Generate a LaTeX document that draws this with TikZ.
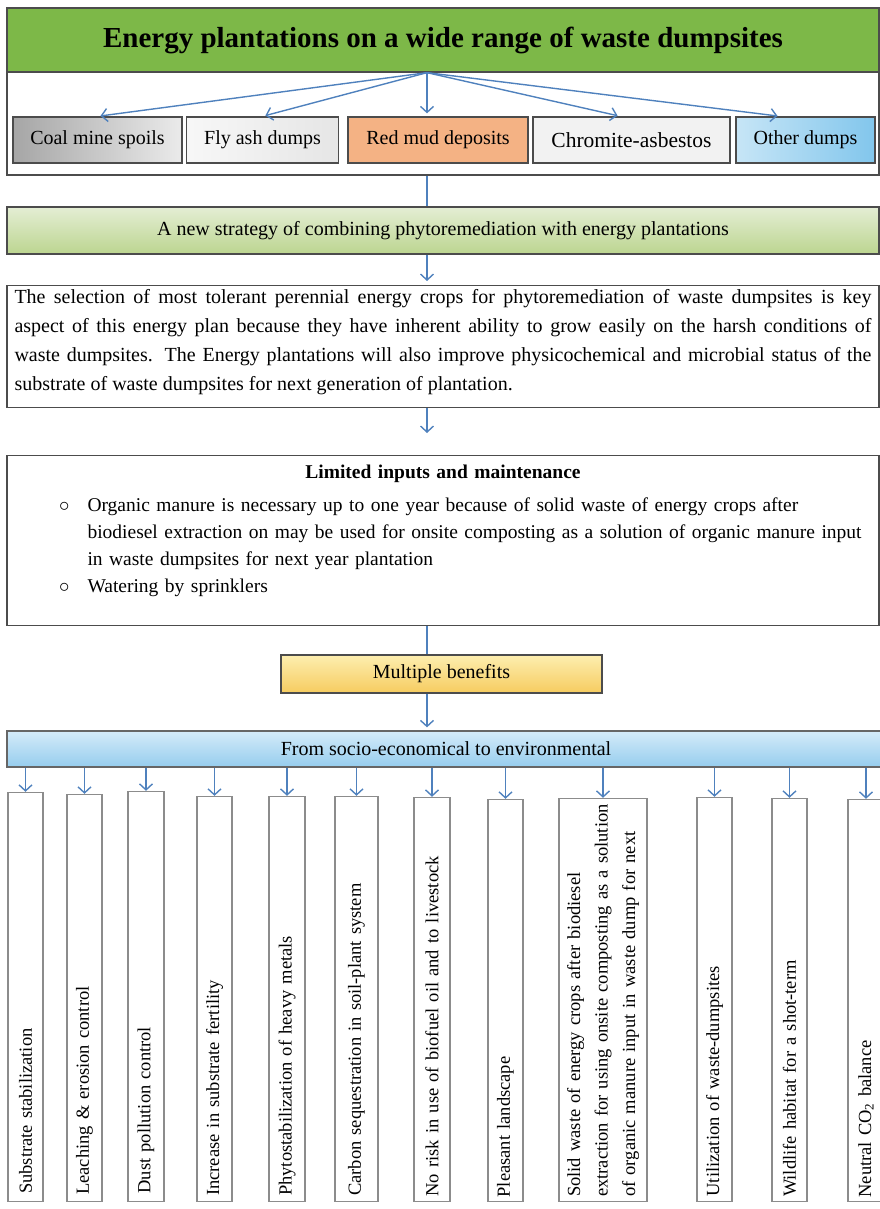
\documentclass[tikz,border=0pt]{standalone}
\usepackage{fontspec}
\setmainfont{Liberation Serif}
\usepackage{tikz}
\usetikzlibrary{arrows.meta,positioning,calc}

\definecolor{arrowblue}{RGB}{79,129,189}
\definecolor{titlegreen}{RGB}{125,184,72}
\definecolor{redmud}{RGB}{244,178,132}
\definecolor{otherblue}{RGB}{130,198,236}
\definecolor{stratlight}{RGB}{228,238,212}
\definecolor{stratdark}{RGB}{188,213,144}
\definecolor{multilight}{RGB}{253,238,175}
\definecolor{multidark}{RGB}{246,204,96}
\definecolor{soclight}{RGB}{212,235,249}
\definecolor{socdark}{RGB}{150,205,238}

\begin{document}
\begin{tikzpicture}[x=1pt,y=-1pt,
    wide/.style={draw=black!70,line width=1.3pt,minimum width=872pt,inner sep=7pt},
    dump/.style={draw=black!70,line width=1.3pt,minimum height=46pt,inner sep=0pt,font=\fontsize{20}{24}\selectfont},
    benefit/.style={draw=black!45,line width=1.2pt,rotate=90,anchor=west,inner xsep=4pt,inner ysep=6pt,text width=394pt,align=left,font=\fontsize{18.5}{27.5}\selectfont},
    flow/.style={arrowblue,line width=1.4pt,-{Straight Barb[length=6pt,width=13pt]}},
    link/.style={arrowblue,line width=1.4pt}]
    \useasboundingbox (0,0) rectangle (880,1209);
    \coordinate (spine) at (427,0);

    % waste dumpsites
    \node[wide,minimum height=103pt] (frame) at (443,123.5) {};
    \node[wide,fill=titlegreen,minimum height=64pt,font=\fontsize{29}{33}\selectfont\bfseries] (title) at (443,40) {Energy plantations on a wide range of waste dumpsites};
    \node[dump,minimum width=169pt,left color=black!35,right color=black!8] (coal) at (97.5,140) {Coal mine spoils};
    \node[dump,minimum width=152pt,left color=black!3,right color=black!10] (fly) at (262.5,140) {Fly ash dumps};
    \node[dump,minimum width=180pt,fill=redmud] (red) at (438,140) {Red mud deposits};
    \node[dump,minimum width=197pt,fill=black!5,font=\fontsize{21.5}{24}\selectfont] (chrom) at (631.5,140) {Chromite-asbestos};
    \node[dump,minimum width=139pt,left color=otherblue!45,right color=otherblue] (other) at (805.5,140) {Other dumps};

    % strategy and text boxes
    \node[wide,minimum height=47pt,top color=stratlight,bottom color=stratdark,font=\fontsize{20}{24}\selectfont] (strat) at (443,230.5) {A new strategy of combining phytoremediation with energy plantations};
    \node[wide,anchor=north,text width=857pt,align=justify,inner ysep=4pt,font=\fontsize{20}{29}\selectfont] (select) at (443,285) {The selection of most tolerant perennial energy crops for phytoremediation of waste dumpsites is key\linebreak aspect of this energy plan because they have inherent ability to grow easily on the harsh conditions of\linebreak waste dumpsites. The Energy plantations will also improve physicochemical and microbial status of the\linebreak substrate of waste dumpsites for next generation of plantation.\rule[-13pt]{0pt}{1pt}};
    \node[wide,anchor=north,text width=857pt,align=left,inner ysep=9pt,font=\fontsize{19.5}{27}\selectfont] (limit) at (443,455) {\centering\textbf{Limited inputs and maintenance}\par
        \raggedright
        \begin{list}{$\circ$}{\leftmargin=73pt\labelsep=18pt\itemsep=0pt\parsep=0pt\topsep=4pt}
        \item Organic manure is necessary up to one year because of solid waste of energy crops after\\ biodiesel extraction on may be used for onsite composting as a solution of organic manure input\\ in waste dumpsites for next year plantation
        \item Watering by sprinklers\rule[-24pt]{0pt}{1pt}
        \end{list}};

    % benefits
    \node[draw=black!70,line width=1.3pt,minimum width=321pt,minimum height=38pt,top color=multilight,bottom color=multidark,font=\fontsize{20}{24}\selectfont] (multi) at (441.5,674) {Multiple benefits};
    \node[draw=black!60,line width=1.3pt,minimum width=878pt,minimum height=36pt,top color=soclight,bottom color=socdark,font=\fontsize{20}{24}\selectfont] (soc) at (446,749) {From socio-economical to environmental};

    \node[benefit,minimum width=409pt,minimum height=35pt] (b1) at (25.5,1202) {Substrate stabilization};
    \node[benefit,minimum width=407pt,minimum height=35pt] (b2) at (84.5,1202) {Leaching \& erosion control};
    \node[benefit,minimum width=410pt,minimum height=36pt] (b3) at (146,1202) {Dust pollution control};
    \node[benefit,minimum width=405pt,minimum height=35pt] (b4) at (214.5,1202) {Increase in substrate fertility};
    \node[benefit,minimum width=405pt,minimum height=36pt] (b5) at (287,1202) {Phytostabilization of heavy metals};
    \node[benefit,minimum width=405pt,minimum height=43pt] (b6) at (356.5,1202) {Carbon sequestration in soil-plant system};
    \node[benefit,minimum width=404pt,minimum height=36pt] (b7) at (432,1202) {No risk in use of biofuel oil and to livestock};
    \node[benefit,minimum width=402pt,minimum height=35pt] (b8) at (505.5,1202) {Pleasant landscape};
    \node[benefit,minimum width=403pt,minimum height=88pt] (b9) at (603,1202) {Solid waste of energy crops after biodiesel\\ extraction for using onsite composting as a solution\\ of organic manure input in waste dump for next};
    \node[benefit,minimum width=404pt,minimum height=35pt] (b10) at (714.5,1202) {Utilization of waste-dumpsites};
    \node[benefit,minimum width=403pt,minimum height=35pt] (b11) at (789.5,1202) {Wildlife habitat for a shot-term};
    \node[benefit,minimum width=402pt,minimum height=36pt] (b12) at (866,1202) {Neutral CO\textsubscript{2} balance};

    % connectors
    \draw[flow,shorten >=3pt] (title.south -| spine) -- (coal.north);
    \draw[flow,shorten >=3pt] (title.south -| spine) -- (fly.north);
    \draw[flow,shorten >=3pt] (title.south -| spine) -- (red.north -| spine);
    \draw[flow,shorten >=3pt] (title.south -| spine) -- ([xshift=-11pt]chrom.north);
    \draw[flow,shorten >=3pt] (title.south -| spine) -- ([xshift=-25pt]other.north);
    \draw[link] (frame.south -| spine) -- (strat.north -| spine);
    \draw[flow,shorten >=4pt] (strat.south -| spine) -- (select.north -| spine);
    \draw[flow,shorten >=22pt] (select.south -| spine) -- (limit.north -| spine);
    \draw[link] (limit.south -| spine) -- (multi.north -| spine);
    \draw[flow,shorten >=3pt] (multi.south -| spine) -- (soc.north -| spine);
    \foreach \b in {1,...,12}
        \draw[flow] (soc.south -| b\b.east) -- (b\b.east);
\end{tikzpicture}
\end{document}
